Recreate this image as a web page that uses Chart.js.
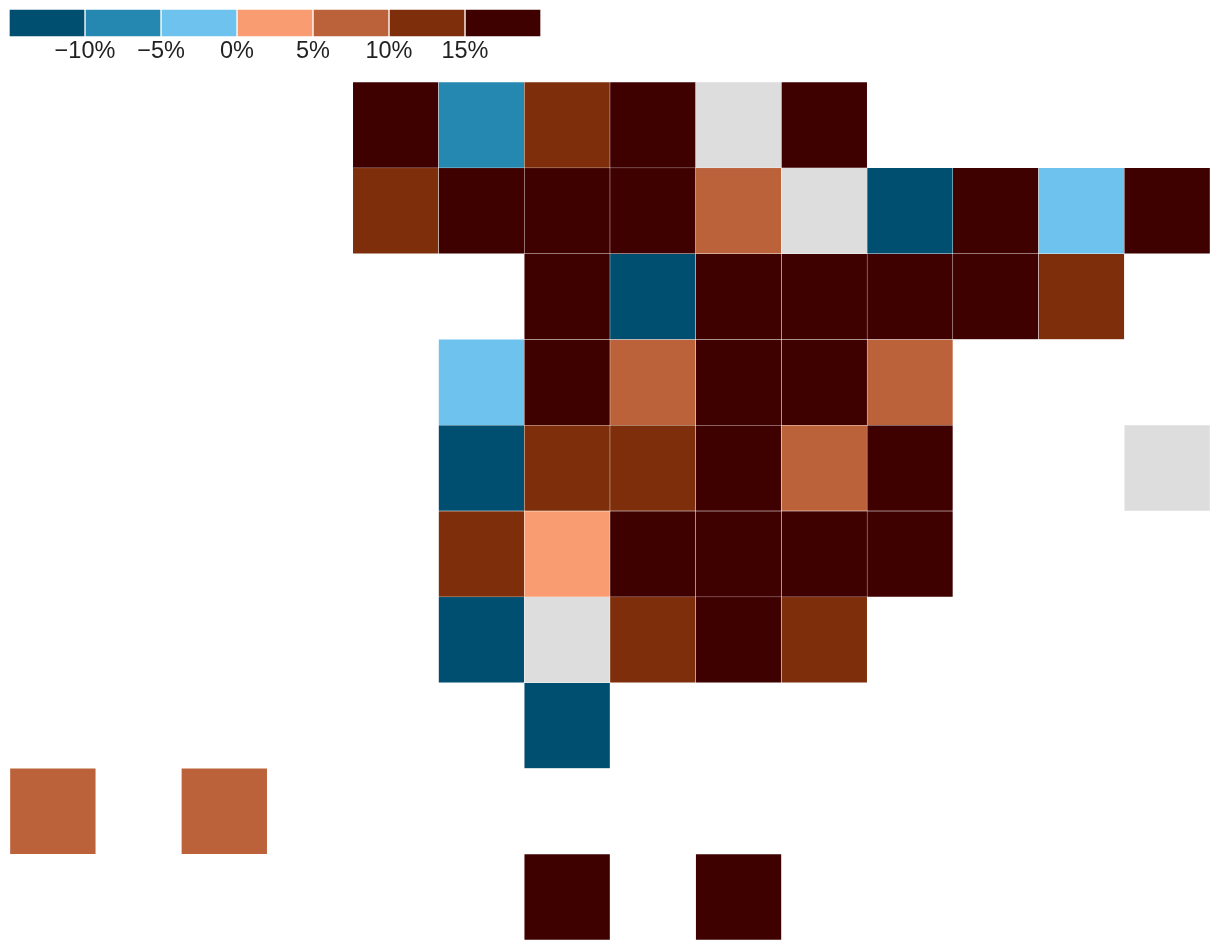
<!DOCTYPE html>
<html>
<head>
<meta charset="utf-8">
<title>Tile map</title>
<script src="https://cdn.jsdelivr.net/npm/chart.js@4"></script>
<style>
    html, body { margin: 0; padding: 0; background: #fff; }
    #wrap { position: relative; width: 1220px; height: 952px; overflow: hidden; }
    canvas { position: absolute; left: 0; top: 0; }
</style>
</head>
<body>
<div id="wrap">
    <canvas id="mapChart" width="1220" height="952"></canvas>
    <canvas id="keyChart" width="1220" height="82"></canvas>
</div>
<script>
// _ = no tile, N = tile with no data (grey)
const _ = null;
const N = 'n/a';

const columns = ['0', '1', '2', '3', '4', '5', '6', '7', '8', '9', '10', '11', '12', '13'];

const row0 = [_, _, _, _, 18, -7, 13, 18, N, 18, _, _, _, _];
const row1 = [_, _, _, _, 13, 18, 18, 18, 8, N, -12, 18, -2, 18];
const row2 = [_, _, _, _, _, _, 18, -12, 18, 18, 18, 18, 13, _];
const row3 = [_, _, _, _, _, -2, 18, 8, 18, 18, 8, _, _, _];
const row4 = [_, _, _, _, _, -12, 13, 13, 18, 8, 18, _, _, N];
const row5 = [_, _, _, _, _, 13, 3, 18, 18, 18, 18, _, _, _];
const row6 = [_, _, _, _, _, -12, N, 13, 18, 13, _, _, _, _];
const row7 = [_, _, _, _, _, _, -12, _, _, _, _, _, _, _];
const row8 = [8, _, 8, _, _, _, _, _, _, _, _, _, _, _];
const row9 = [_, _, _, _, _, _, 18, _, 18, _, _, _, _, _];
const rows = [row0, row1, row2, row3, row4, row5, row6, row7, row8, row9];

// colour key: bands run from keyEdges[i] to keyEdges[i + 1]
const keyEdges = [-15, -10, -5, 0, 5, 10, 15, 20];
const keyColors = ['#004e70', '#2488b0', '#6ec2ee', '#f99c71', '#bb623a', '#7e2e0a', '#3f0000'];
const noDataColor = '#dddddd';

function tileColor(v) {
    if (v === N || v === null) return noDataColor;
    for (let i = 0; i < keyColors.length; i++) {
        if (v < keyEdges[i + 1]) return keyColors[i];
    }
    return keyColors[keyColors.length - 1];
}

new Chart(document.getElementById('mapChart'), {
    type: 'bar',
    data: {
        labels: columns,
        datasets: rows.map((row, r) => ({
            label: 'row ' + r,
            data: row.map(v => v === null ? null : [r, r + 1]),
            backgroundColor: row.map(tileColor),
            borderColor: 'rgba(255,255,255,0.7)',
            borderWidth: 0.5,
            borderSkipped: false,
            barPercentage: 1,
            categoryPercentage: 1,
            grouped: false
        }))
    },
    options: {
        responsive: false,
        animation: false,
        layout: { padding: { left: 10, right: 10, top: 82, bottom: 12 } },
        plugins: { legend: { display: false }, tooltip: { enabled: false } },
        scales: {
            x: { display: false },
            y: { display: false, reverse: true, min: 0, max: rows.length }
        }
    }
});

new Chart(document.getElementById('keyChart'), {
    type: 'bar',
    data: {
        labels: ['change'],
        datasets: keyColors.map((color, i) => ({
            label: keyEdges[i] + '%',
            data: [[keyEdges[i], keyEdges[i + 1]]],
            backgroundColor: color,
            borderColor: '#ffffff',
            borderWidth: 1,
            borderSkipped: false,
            barPercentage: 1,
            categoryPercentage: 1,
            grouped: false
        }))
    },
    options: {
        indexAxis: 'y',
        responsive: false,
        animation: false,
        layout: { padding: { left: 9, right: 679, top: 9, bottom: 0 } },
        plugins: { legend: { display: false }, tooltip: { enabled: false } },
        scales: {
            y: { display: false },
            x: {
                min: keyEdges[0],
                max: keyEdges[keyEdges.length - 1],
                border: { display: false },
                grid: { display: false, drawTicks: false },
                afterFit: scale => { scale.height = 45; },
                afterBuildTicks: scale => {
                    scale.ticks = keyEdges.slice(1, -1).map(v => ({ value: v }));
                },
                ticks: {
                    padding: 0,
                    maxRotation: 0,
                    autoSkip: false,
                    color: '#222222',
                    font: { family: '"Liberation Sans", Arial, sans-serif', size: 23.5 },
                    callback: v => String(v).replace('-', '\u2212') + '%'
                }
            }
        }
    }
});
</script>
</body>
</html>
